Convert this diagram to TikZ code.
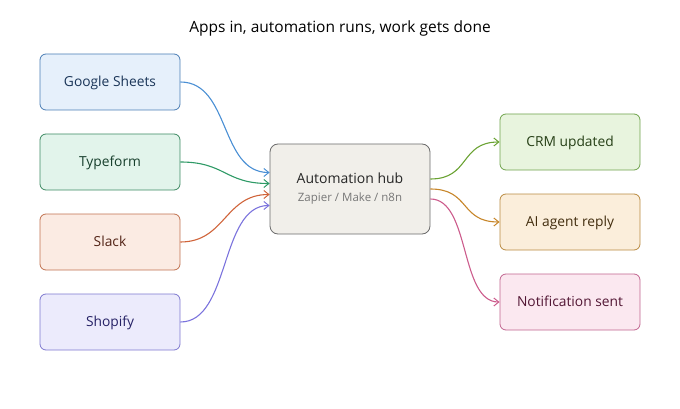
\documentclass[tikz,border=0pt]{standalone}
\usepackage{fontspec}
\setmainfont{Open Sans}
\usetikzlibrary{arrows.meta}
\definecolor{gsF}{HTML}{E6F0FB}\definecolor{gsD}{HTML}{4A7DB5}\definecolor{gsT}{HTML}{1A3558}\definecolor{gsL}{HTML}{4A8FD4}
\definecolor{tfF}{HTML}{E2F4EB}\definecolor{tfD}{HTML}{3D8A63}\definecolor{tfT}{HTML}{173F2C}\definecolor{tfL}{HTML}{2E9A66}
\definecolor{slF}{HTML}{FBEBE3}\definecolor{slD}{HTML}{C0714F}\definecolor{slT}{HTML}{522316}\definecolor{slL}{HTML}{D0643A}
\definecolor{shF}{HTML}{ECEBFC}\definecolor{shD}{HTML}{7D78CF}\definecolor{shT}{HTML}{262266}\definecolor{shL}{HTML}{7B73DD}
\definecolor{hbF}{HTML}{F1EFEA}\definecolor{hbD}{HTML}{6B6B6B}\definecolor{hbT}{HTML}{262626}\definecolor{hbS}{HTML}{777777}
\definecolor{crF}{HTML}{E8F4DE}\definecolor{crD}{HTML}{6FA34C}\definecolor{crT}{HTML}{263F16}\definecolor{crL}{HTML}{6AA232}
\definecolor{aiF}{HTML}{FBEEDB}\definecolor{aiD}{HTML}{B98A40}\definecolor{aiT}{HTML}{422D0E}\definecolor{aiL}{HTML}{C7862A}
\definecolor{ntF}{HTML}{FBE8F0}\definecolor{ntD}{HTML}{C0648F}\definecolor{ntT}{HTML}{521634}\definecolor{ntL}{HTML}{CC5C8C}
\tikzset{
  appbox/.style={draw, line width=0.8pt, rounded corners=6pt, minimum width=140pt, minimum height=56pt, inner sep=0pt, text depth=0.3ex, font=\fontsize{13.8}{16}\selectfont},
  link/.style={line width=1.1pt, -{Straight Barb[length=5pt,width=8pt,line width=1pt]}},
}
\begin{document}
\begin{tikzpicture}[x=1pt,y=-1pt]
\useasboundingbox (0,0) rectangle (680,409);
\node[font=\fontsize{15.5}{18}\selectfont, text=black] (title) at (340,28) {Apps in, automation runs, work gets done};
\node[appbox, fill=gsF, draw=gsD, text=gsT] (gs) at (110,82) {Google Sheets};
\node[appbox, fill=tfF, draw=tfD, text=tfT] (tf) at (110,162) {Typeform};
\node[appbox, fill=slF, draw=slD, text=slT] (sl) at (110,242) {Slack};
\node[appbox, fill=shF, draw=shD, text=shT] (sh) at (110,322) {Shopify};
\node[draw=hbD, fill=hbF, line width=0.8pt, rounded corners=8pt, minimum width=160pt, minimum height=90pt, inner sep=0pt, align=center] (hub) at (350,189)
  {{\fontsize{14}{16}\selectfont\color{hbT}Automation hub}\\[6pt]{\fontsize{11.5}{13}\selectfont\color{hbS}Zapier / Make / n8n}};
\node[appbox, fill=crF, draw=crD, text=crT] (crm) at (570,142) {CRM updated};
\node[appbox, fill=aiF, draw=aiD, text=aiT] (ai) at (570,222) {AI agent reply};
\node[appbox, fill=ntF, draw=ntD, text=ntT] (nt) at (570,302) {Notification sent};
\draw[link, draw=gsL] (gs.east) .. controls +(50,0) and +(-50,0) .. ([yshift=16.5pt]hub.west);
\draw[link, draw=tfL] (tf.east) .. controls +(45,0) and +(-45,0) .. ([yshift=5.5pt]hub.west);
\draw[link, draw=slL] (sl.east) .. controls +(45,0) and +(-45,0) .. ([yshift=-5.5pt]hub.west);
\draw[link, draw=shL] (sh.east) .. controls +(50,0) and +(-50,0) .. ([yshift=-16.5pt]hub.west);
\draw[link, draw=crL] ([yshift=10pt]hub.east) .. controls +(40,0) and +(-40,0) .. (crm.west);
\draw[link, draw=aiL] ([yshift=0pt]hub.east) .. controls +(40,0) and +(-40,0) .. (ai.west);
\draw[link, draw=ntL] ([yshift=-10pt]hub.east) .. controls +(40,0) and +(-40,0) .. (nt.west);
\end{tikzpicture}
\end{document}
